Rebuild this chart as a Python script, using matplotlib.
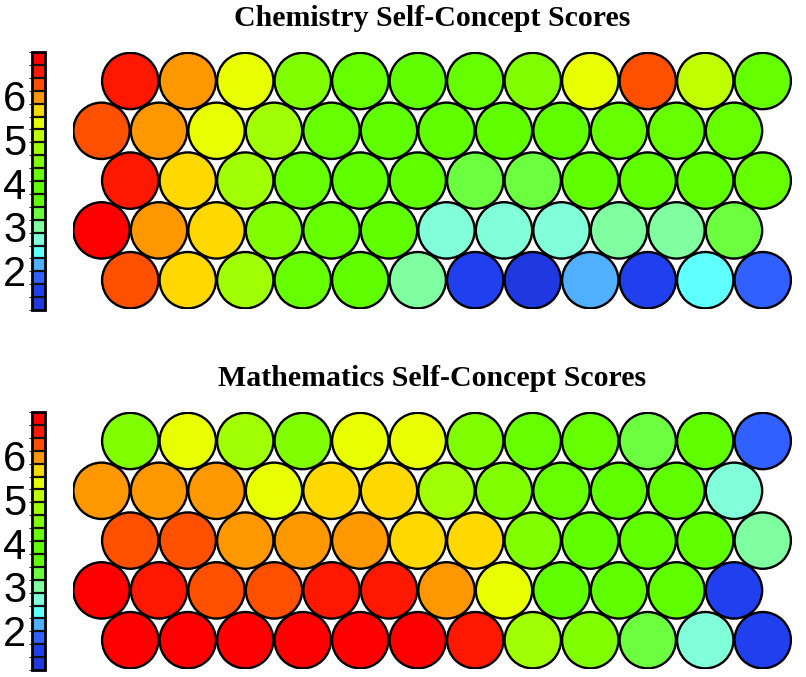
import numpy as np
import matplotlib
matplotlib.use("Agg")
import matplotlib.pyplot as plt
from matplotlib.patches import Circle
from matplotlib.colors import ListedColormap, BoundaryNorm
from matplotlib.cm import ScalarMappable

# colour scale, bottom -> top (20 discrete steps)
scale_colors = [
    "#2038E0", "#2040F0", "#3060FF", "#50B0FF", "#60FFFF",
    "#80FFD8", "#80FFA0", "#6CFF40", "#60FF00", "#60FF00",
    "#66FF00", "#80FF00", "#A0FF00", "#C0FF00", "#E8FF00",
    "#FFD800", "#FF9800", "#FF5000", "#FF1800", "#FF0000",
]
score_min, score_max = 1.1, 7.0
tick_values = [2, 3, 4, 5, 6]

# scores per circle, top row first (12 circles per row)
chem_scores = [
    [6.56, 5.97, 5.38, 4.49, 4.20, 3.90, 4.20, 4.49, 5.38, 6.26, 5.08, 4.20],
    [6.26, 5.97, 5.38, 4.79, 4.20, 3.90, 3.90, 3.90, 3.90, 4.20, 4.20, 4.20],
    [6.56, 5.67, 4.79, 4.20, 3.90, 3.90, 3.31, 3.31, 3.90, 3.90, 3.90, 4.20],
    [6.85, 5.97, 5.67, 4.49, 4.20, 3.90, 2.72, 2.72, 2.72, 3.02, 3.02, 3.31],
    [6.26, 5.67, 4.79, 4.20, 3.90, 3.02, 1.54, 1.25, 2.13, 1.54, 2.43, 1.84],
]
math_scores = [
    [4.49, 5.38, 4.79, 4.49, 5.38, 5.38, 4.49, 4.20, 4.20, 3.31, 3.90, 1.84],
    [5.97, 5.97, 5.97, 5.38, 5.67, 5.67, 4.79, 4.49, 4.20, 3.90, 3.90, 2.72],
    [6.26, 6.26, 5.97, 5.97, 5.97, 5.67, 5.67, 4.49, 3.90, 3.90, 3.90, 3.02],
    [6.85, 6.56, 6.26, 6.26, 6.56, 6.56, 5.97, 5.38, 3.90, 3.90, 3.90, 1.54],
    [6.85, 6.85, 6.85, 6.85, 6.85, 6.85, 6.56, 4.79, 4.49, 3.31, 2.72, 1.54],
]
titles = ["Chemistry Self-Concept Scores", "Mathematics Self-Concept Scores"]

cmap = ListedColormap(scale_colors)
norm = BoundaryNorm(np.linspace(score_min, score_max, len(scale_colors) + 1), cmap.N)

W, H = 806, 677
fig = plt.figure(figsize=(W / 100, H / 100), dpi=100)

pitch = 57.5  # px between circle centres
h = np.sqrt(3) / 2


def px_axes(x0, y0, w, hgt):
    return fig.add_axes([x0 / W, 1 - (y0 + hgt) / H, w / W, hgt / H])


for k, (scores, title) in enumerate(zip([chem_scores, math_scores], titles)):
    off = 360 * k
    nrows, ncols = len(scores), len(scores[0])
    x0 = 101.5 - pitch / 2
    y0 = 81 + off - pitch / 2
    xr = ncols + 0.5
    yr = (nrows - 1) * h + 1
    ax = px_axes(x0, y0, xr * pitch, yr * pitch)
    ax.set_xlim(-0.5, ncols)
    ax.set_ylim(-(nrows - 1) * h - 0.5, 0.5)
    ax.axis("off")
    for r, row in enumerate(scores):
        shift = 0.5 if r % 2 == 0 else 0.0
        for c, val in enumerate(row):
            ax.add_patch(Circle((c + shift, -r * h), 0.49,
                                facecolor=cmap(norm(val)), edgecolor="black",
                                linewidth=1.7))
    fig.text((x0 + xr * pitch / 2) / W, 1 - (26 + off) / H, title,
             ha="center", va="baseline", fontsize=21.5, fontweight="bold",
             family="Liberation Serif")

    cax = px_axes(32, 52 + off, 13, 258)
    cb = fig.colorbar(ScalarMappable(norm=norm, cmap=cmap), cax=cax,
                      drawedges=True, ticks=tick_values)
    cb.dividers.set_linewidth(1.6)
    cb.dividers.set_color("#111111")
    cb.outline.set_linewidth(2)
    cax.yaxis.set_ticks_position("left")
    cax.yaxis.set_label_position("left")
    cax.tick_params(length=0, pad=4, labelsize=30)
    for lab in cax.get_yticklabels():
        lab.set_family("Liberation Sans")

fig.savefig("out.png", dpi=100)
